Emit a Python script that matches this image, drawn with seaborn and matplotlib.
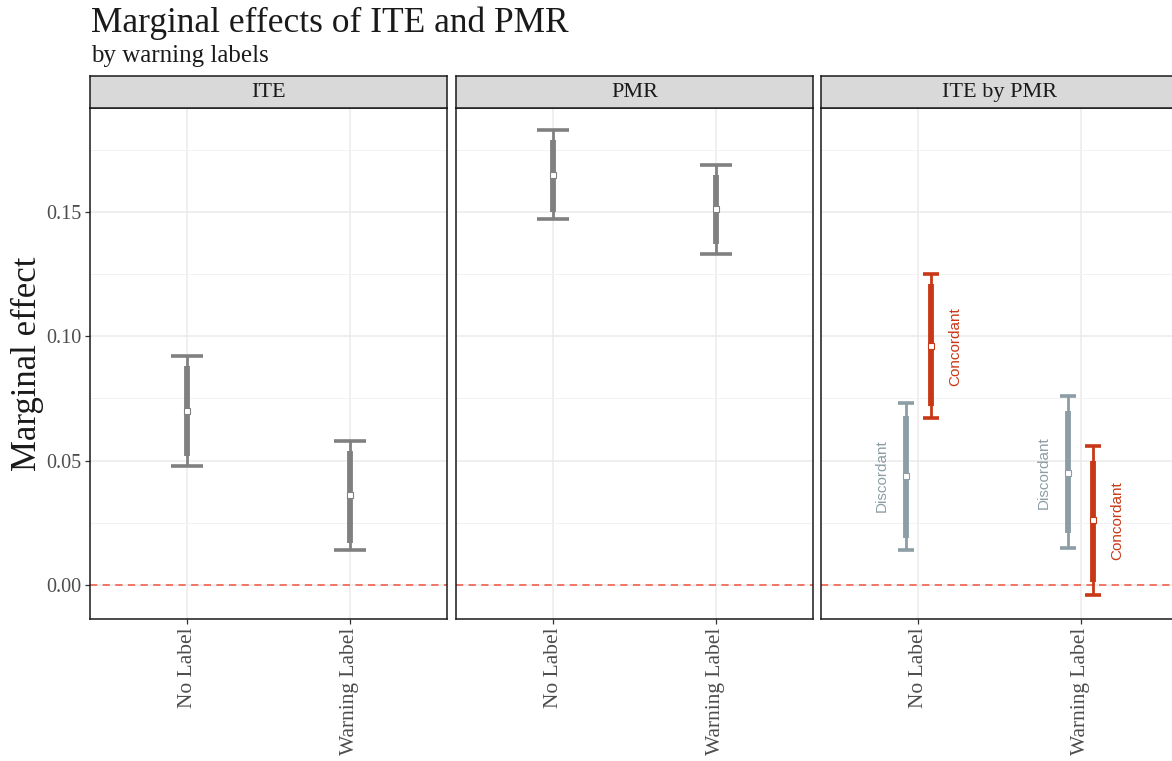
import matplotlib
matplotlib.use("Agg")
import numpy as np
import pandas as pd
import matplotlib.pyplot as plt
import seaborn as sns
from matplotlib.ticker import MultipleLocator, FixedLocator

# values
categories = ["No Label", "Warning Label"]
panels = ["ITE", "PMR", "ITE by PMR"]

ite_est = [0.070, 0.036]
ite_lo95 = [0.048, 0.014]
ite_hi95 = [0.092, 0.058]
ite_lo90 = [0.052, 0.017]
ite_hi90 = [0.088, 0.054]

pmr_est = [0.165, 0.151]
pmr_lo95 = [0.147, 0.133]
pmr_hi95 = [0.183, 0.169]
pmr_lo90 = [0.150, 0.137]
pmr_hi90 = [0.179, 0.165]

disc_est = [0.044, 0.045]
disc_lo95 = [0.014, 0.015]
disc_hi95 = [0.073, 0.076]
disc_lo90 = [0.019, 0.021]
disc_hi90 = [0.068, 0.070]

conc_est = [0.096, 0.026]
conc_lo95 = [0.067, -0.004]
conc_hi95 = [0.125, 0.056]
conc_lo90 = [0.072, 0.001]
conc_hi90 = [0.121, 0.050]

colors = {"Overall": "#808080", "Discordant": "#8C9DA5", "Concordant": "#C93816"}


def block(panel, group, est, lo95, hi95, lo90, hi90):
    return pd.DataFrame({
        "panel": panel, "group": group, "label": categories,
        "est": est, "lo95": lo95, "hi95": hi95, "lo90": lo90, "hi90": hi90,
    })


df = pd.concat([
    block("ITE", "Overall", ite_est, ite_lo95, ite_hi95, ite_lo90, ite_hi90),
    block("PMR", "Overall", pmr_est, pmr_lo95, pmr_hi95, pmr_lo90, pmr_hi90),
    block("ITE by PMR", "Discordant", disc_est, disc_lo95, disc_hi95, disc_lo90, disc_hi90),
    block("ITE by PMR", "Concordant", conc_est, conc_lo95, conc_hi95, conc_lo90, conc_hi90),
], ignore_index=True)

# dodge the two PMR groups inside the third panel
dodge = {"Overall": 0.0, "Discordant": -0.075, "Concordant": 0.075}
df["x"] = df["label"].map({c: i for i, c in enumerate(categories)}) + df["group"].map(dodge)

sns.set_theme(style="white")
plt.rcParams["font.family"] = ["Liberation Serif", "DejaVu Serif"]

W, H = 1172, 761
fig = plt.figure(figsize=(W / 100, H / 100), dpi=100)

panel_left = [90, 456, 821]
panel_w = 357
top_px, bot_px = 108, 619
strip_h = 32

for i, name in enumerate(panels):
    ax = fig.add_axes([panel_left[i] / W, 1 - bot_px / H, panel_w / W, (bot_px - top_px) / H])
    sub = df[df["panel"] == name]

    ax.set_xlim(-0.6, 1.6)
    ax.set_ylim(-0.0137, 0.1918)
    ax.yaxis.set_major_locator(FixedLocator([0.0, 0.05, 0.10, 0.15]))
    ax.yaxis.set_minor_locator(MultipleLocator(0.025))
    ax.set_xticks(range(len(categories)))
    ax.set_xticklabels(categories, rotation=90, fontsize=15.5, color="#4D4D4D")
    ax.grid(which="major", color="#EBEBEB", lw=1.1)
    ax.grid(which="minor", axis="y", color="#F2F2F2", lw=0.7)
    ax.set_axisbelow(True)
    ax.tick_params(which="minor", length=0)
    ax.tick_params(axis="both", which="major", length=3.5, width=0.9, color="#333333", pad=2.5,
                   bottom=True, left=True)
    if i == 0:
        ax.set_yticklabels(["0.00", "0.05", "0.10", "0.15"], fontsize=14.5, color="#4D4D4D")
    else:
        ax.tick_params(axis="y", labelleft=False, left=False)
    for s in ax.spines.values():
        s.set_color("#1A1A1A")
        s.set_linewidth(1.1)

    ax.axhline(0, color="#F26B5B", lw=1.3, ls=(0, (4, 3)), zorder=1)

    cap = 11.5 if name != "ITE by PMR" else 5.8
    for g, gd in sub.groupby("group", sort=False):
        c = colors[g]
        ax.errorbar(gd["x"], gd["est"],
                    yerr=[gd["est"] - gd["lo95"], gd["hi95"] - gd["est"]],
                    fmt="none", ecolor=c, elinewidth=2.0, capsize=cap, capthick=2.6, zorder=2)
        ax.vlines(gd["x"], gd["lo90"], gd["hi90"], color=c, lw=4.2, zorder=3)
        sns.scatterplot(data=gd, x="x", y="est", marker="s", s=20, color="white",
                        edgecolor=c, linewidth=0.8, ax=ax, zorder=4, legend=False)
        if g != "Overall":
            off = -0.15 if g == "Discordant" else 0.15
            for _, r in gd.iterrows():
                ax.text(r["x"] + off, r["est"], g, rotation=90, ha="center", va="center",
                        color=c, fontsize=11, family=["Liberation Sans", "DejaVu Sans"])
    ax.set_xlabel("")
    ax.set_ylabel("")

    # facet strip
    sax = fig.add_axes([panel_left[i] / W, 1 - top_px / H, panel_w / W, strip_h / H])
    sax.set_facecolor("#D9D9D9")
    sax.set_xticks([])
    sax.set_yticks([])
    for s in sax.spines.values():
        s.set_color("#1A1A1A")
        s.set_linewidth(1.1)
    sax.text(0.5, 0.47, name, ha="center", va="center", fontsize=16, color="#1A1A1A",
             transform=sax.transAxes)

fig.text(91 / W, 1 - 32 / H, "Marginal effects of ITE and PMR", ha="left", va="baseline",
         fontsize=25.5, color="#1A1A1A")
fig.text(91 / W, 1 - 62 / H, "by warning labels", ha="left", va="baseline",
         fontsize=18, color="#1A1A1A")
fig.text(27 / W, 1 - 364 / H, "Marginal effect", rotation=90, ha="center", va="center",
         fontsize=25, color="#1A1A1A")

fig.savefig("out.png", dpi=100)
